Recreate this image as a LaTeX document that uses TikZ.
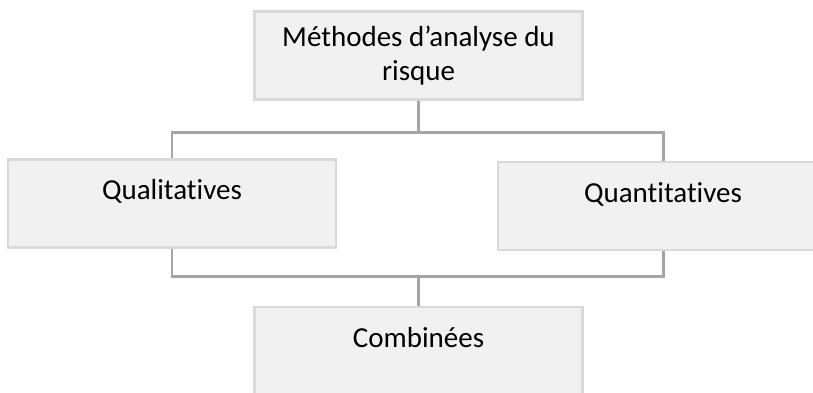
\documentclass[tikz,border=0pt]{standalone}
\usepackage{fontspec}
\setmainfont{Carlito}[Ligatures=NoCommon]
\usetikzlibrary{positioning, calc}
\usepackage{xcolor}
\definecolor{boxfill}{HTML}{F1F1F1}
\definecolor{boxline}{HTML}{D9D9D9}
\definecolor{linkgray}{HTML}{A5A5A5}

\begin{document}
\begin{tikzpicture}[
        box/.style={rectangle, draw=boxline, line width=1.3pt, fill=boxfill, inner sep=0pt, minimum width=6.56cm, minimum height=1.76cm, align=center, font=\fontsize{16.5}{19.3}\selectfont},
        toptext/.style={text height=0.8cm, text depth=0.96cm},
        link/.style={draw=linkgray, line width=1.7pt}
    ]
        \useasboundingbox (0,0) rectangle (16.26,-7.84);

        \node [box] (methodes) at (8.37,-1.11) {Méthodes d’analyse du\\risque};
        \node [box, toptext] (qualit) at (3.44,-4.07) {Qualitatives};
        \node [box, toptext, minimum width=6.6cm] (quantit) at (13.26,-4.12) {Quantitatives};
        \node [box, toptext] (combin) at (8.37,-7.02) {Combinées};

        \coordinate (split) at ($(methodes.south)+(0,-0.64)$);
        \coordinate (merge) at ($(combin.north)+(0,0.58)$);

        \draw [link] (methodes.south) -- (split);
        \draw [link] (qualit.north) |- (split) -| (quantit.north);
        \draw [link] (qualit.south) |- (merge) -| (quantit.south);
        \draw [link] (merge) -- (combin.north);

    \end{tikzpicture}
\end{document}
